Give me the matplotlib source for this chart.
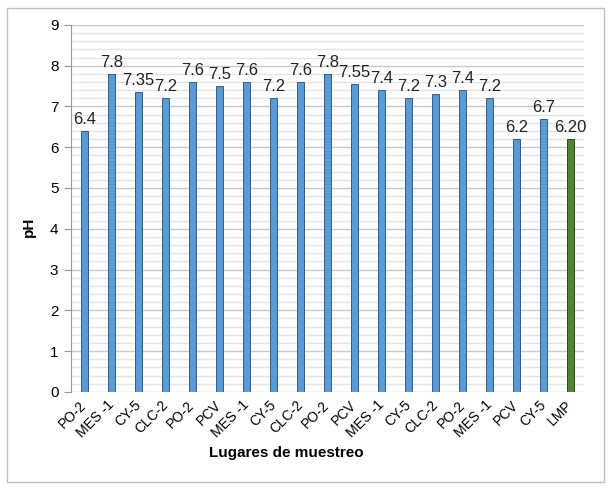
import matplotlib
matplotlib.use("Agg")
from matplotlib import pyplot as plt
from matplotlib.ticker import MultipleLocator
from matplotlib.patches import Rectangle

plt.rcParams['font.family'] = ['Liberation Sans', 'DejaVu Sans']

# sampling sites and measured pH
lugares = ["PO-2", "MES -1", "CY-5", "CLC-2", "PO-2", "PCV", "MES -1", "CY-5", "CLC-2", "PO-2",
           "PCV", "MES -1", "CY-5", "CLC-2", "PO-2", "MES -1", "PCV", "CY-5", "LMP"]
ph_values = [6.4, 7.8, 7.35, 7.2, 7.6, 7.5, 7.6, 7.2, 7.6, 7.8,
             7.55, 7.4, 7.2, 7.3, 7.4, 7.2, 6.2, 6.7, 6.20]
value_labels = ["6.4", "7.8", "7.35", "7.2", "7.6", "7.5", "7.6", "7.2", "7.6", "7.8",
                "7.55", "7.4", "7.2", "7.3", "7.4", "7.2", "6.2", "6.7", "6.20"]

fig = plt.figure(figsize=(6.11, 4.88), dpi=100)
ax = fig.add_axes([0.116, 0.197, 0.84, 0.752])

# outer chart border
fig.patches.append(Rectangle((0.011, 0.012), 0.978, 0.972, transform=fig.transFigure,
                             fill=False, edgecolor="#bfbfbf", linewidth=1))

bar_colors = ["#5b9bd5"] * (len(lugares) - 1) + ["#548235"]
edge_colors = ["#2f5f8f"] * (len(lugares) - 1) + ["#2e4a1c"]
x = range(len(lugares))
bars = ax.bar(x, ph_values, width=0.26, color=bar_colors, edgecolor=edge_colors, linewidth=0.7, zorder=3)

for b, lab in zip(bars, value_labels):
    ax.text(b.get_x() + b.get_width() / 2, b.get_height() + 0.1, lab,
            ha="center", va="bottom", fontsize=12, color="#222222")

ax.set_xlim(-0.5, len(lugares) - 0.5)
ax.set_ylim(0, 9)
ax.yaxis.set_major_locator(MultipleLocator(1))
ax.yaxis.set_minor_locator(MultipleLocator(0.2))
ax.grid(which="major", axis="y", color="#c8c8c8", linewidth=1, zorder=0)
ax.grid(which="minor", axis="y", color="#e4e4e4", linewidth=1, zorder=0)
ax.tick_params(axis="y", which="minor", length=0)
ax.tick_params(axis="y", which="major", length=5, color="#999999", labelsize=11, pad=4)
ax.tick_params(axis="x", length=0, labelsize=10, pad=8)

ax.set_xticks(list(x))
ax.set_xticklabels(lugares, rotation=45, ha="right", va="center", rotation_mode="anchor")

for s in ["top", "right", "bottom"]:
    ax.spines[s].set_visible(False)
ax.spines["left"].set_color("#999999")

ax.set_ylabel("pH", fontweight="bold", fontsize=11)
ax.yaxis.set_label_coords(-0.068, 0.45)
ax.set_xlabel("Lugares de muestreo", fontweight="bold", fontsize=11)
ax.xaxis.set_label_coords(0.42, -0.148)

plt.savefig("out.png", dpi=100)
